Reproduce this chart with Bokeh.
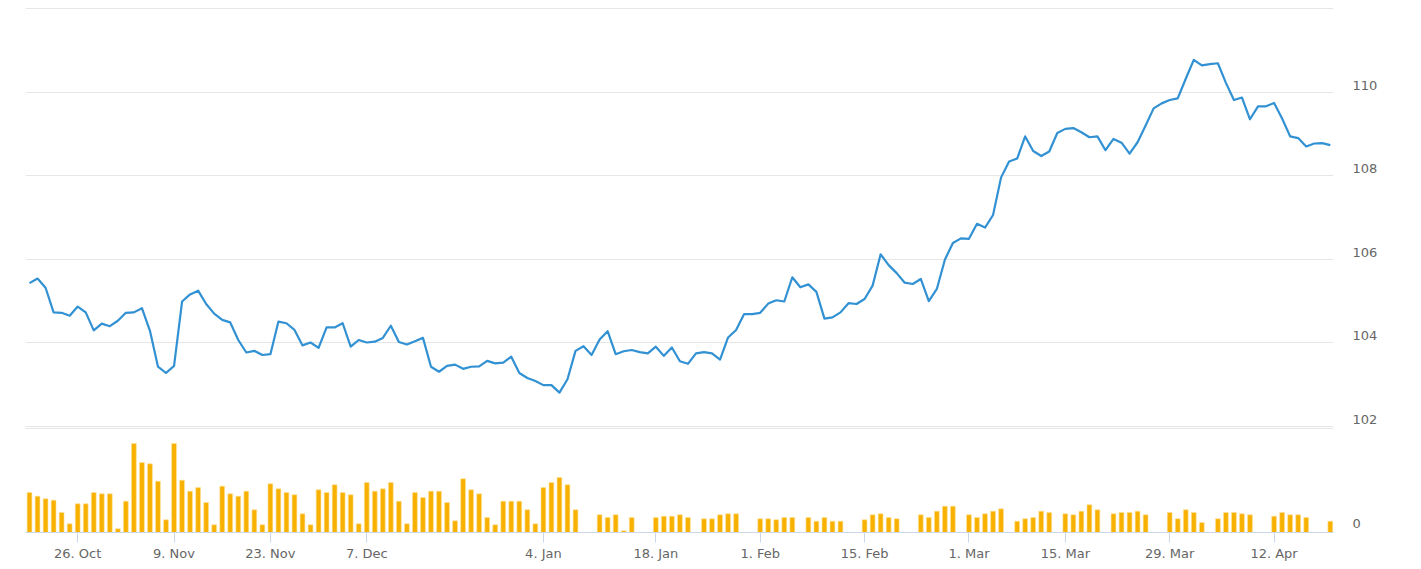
import numpy as np
from bokeh.plotting import figure
from bokeh.layouts import column
from bokeh.models import Range1d, LinearAxis, FixedTicker, ColumnDataSource, Grid
from bokeh.embed import file_html
from bokeh.resources import INLINE

# ---- data (ordinal trading-day index) ----
price = [
    105.43, 105.54, 105.32, 104.73, 104.72, 104.65, 104.87, 104.73, 104.30, 104.46,
    104.40, 104.53, 104.72, 104.73, 104.83, 104.29, 103.43, 103.28, 103.45, 104.99,
    105.16, 105.25, 104.93, 104.70, 104.55, 104.49, 104.07, 103.77, 103.81, 103.71,
    103.73, 104.51, 104.47, 104.31, 103.94, 104.01, 103.88, 104.37, 104.37, 104.47,
    103.91, 104.07, 104.01, 104.03, 104.12, 104.41, 104.02, 103.96, 104.04, 104.12,
    103.43, 103.31, 103.45, 103.48, 103.38, 103.43, 103.44, 103.57, 103.51, 103.53,
    103.67, 103.28, 103.16, 103.09, 102.99, 102.99, 102.81, 103.13, 103.81, 103.92,
    103.71, 104.08, 104.28, 103.73, 103.80, 103.83, 103.78, 103.75, 103.91, 103.69,
    103.89, 103.56, 103.50, 103.75, 103.78, 103.75, 103.60, 104.13, 104.31, 104.69,
    104.69, 104.72, 104.94, 105.02, 104.99, 105.57, 105.33, 105.40, 105.22, 104.58,
    104.61, 104.73, 104.95, 104.93, 105.05, 105.37, 106.12, 105.86, 105.67, 105.44,
    105.41, 105.53, 105.00, 105.29, 105.99, 106.39, 106.50, 106.49, 106.85, 106.76,
    107.06, 107.96, 108.34, 108.41, 108.94, 108.59, 108.47, 108.58, 109.02, 109.12,
    109.14, 109.04, 108.92, 108.94, 108.61, 108.88, 108.79, 108.53, 108.80, 109.20,
    109.61, 109.73, 109.81, 109.85, 110.32, 110.77, 110.64, 110.67, 110.69, 110.22,
    109.81, 109.87, 109.35, 109.66, 109.66, 109.74, 109.37, 108.94, 108.90, 108.70,
    108.77, 108.78, 108.73,
]

nan = float("nan")
volume = [
    40, 36.3, 33.7, 32.3, 20, 8.7, 28.7, 28.7, 40, 38.7,
    38.7, 3.7, 31.3, 89, 70, 68.7, 51.3, 12.7, 89, 52.3,
    41.3, 45, 30, 7.7, 46.3, 38.7, 36.3, 41.3, 22.7, 7.7,
    48.7, 43.7, 40, 37.7, 18.7, 7.7, 42.7, 40, 47.7, 40,
    37.7, 8.7, 50, 41.3, 43.7, 50, 31.3, 8.7, 40, 35,
    41.3, 41.3, 30, 11.7, 53.7, 42.7, 38.7, 15, 7.7, 31.3,
    31.3, 31.3, 22.7, 8.7, 45, 50, 55, 47.7, 22.7, nan,
    nan, 17.7, 15, 17.7, 1.7, 15, nan, nan, 15, 16.3,
    16.3, 17.7, 15, nan, 13.7, 13.7, 17.7, 18.7, 18.7, nan,
    nan, 13.7, 13.7, 12.7, 15, 15, nan, 15, 11.3, 15,
    11.3, 11.3, nan, nan, 12.7, 17.7, 18.7, 15, 13.7, nan,
    nan, 17.7, 15, 21.3, 26.3, 26.3, nan, 17.7, 15, 18.7,
    21.3, 23.7, nan, 11.3, 13.7, 15, 21.3, 20, nan, 18.7,
    17.7, 21.3, 27.7, 22.7, nan, 18.7, 20, 20, 21.3, 17.7,
    nan, nan, 20, 13.7, 22.7, 20, 10, nan, 13.7, 20,
    20, 18.7, 17.7, nan, nan, 16.3, 20, 17.7, 17.7, 15,
    nan, nan, 11.3,
]

tick_labels = ["26. Oct", "9. Nov", "23. Nov", "7. Dec", "4. Jan", "18. Jan",
               "1. Feb", "15. Feb", "1. Mar", "15. Mar", "29. Mar", "12. Apr"]
tick_index = [6, 18, 30, 42, 64, 78, 91, 104, 117, 129, 142, 155]

price_ticks = [102, 104, 106, 108, 110]
price_grid = [102, 104, 106, 108, 110, 112]

idx = list(range(len(price)))
src = ColumnDataSource(dict(x=idx, price=price, vol=np.array(volume, dtype=float)))

FONT = "DejaVu Sans"
LABEL_COLOR = "#666666"
GRID_COLOR = "#e6e6e6"
AXIS_COLOR = "#ccd6eb"
PX = 41.8  # pixels per price unit

x_range = Range1d(-0.5, 162.4)

# ---- price pane ----
p = figure(frame_width=1308, frame_height=420, x_range=x_range,
           y_range=Range1d(102 - 1 / PX, 112 + 1 / PX),
           output_backend="svg", toolbar_location=None,
           min_border_left=25, min_border_right=75, min_border_top=7, min_border_bottom=0,
           x_axis_location=None, y_axis_location=None)
p.grid.visible = False
p.outline_line_color = None
p.background_fill_color = "white"
p.border_fill_color = "white"
p.add_layout(Grid(dimension=1, ticker=FixedTicker(ticks=price_grid),
                  grid_line_color=GRID_COLOR, grid_line_width=1))

p.line("x", "price", source=src, line_color="#3191d3", line_width=2.2, line_join="round")

p.extra_y_ranges = {"lab": Range1d(102 - 1 / PX - 7 / PX, 112 + 1 / PX - 7 / PX)}
pax = LinearAxis(y_range_name="lab", ticker=FixedTicker(ticks=price_ticks),
                 axis_line_color=None, major_tick_line_color=None, minor_tick_line_color=None,
                 major_tick_out=0, major_tick_in=0, minor_tick_out=0, minor_tick_in=0,
                 major_label_standoff=19, major_label_text_color=LABEL_COLOR,
                 major_label_text_font=FONT, major_label_text_font_size="13px")
p.add_layout(pax, "right")

# ---- volume pane ----
v = figure(frame_width=1308, frame_height=105, x_range=x_range, y_range=Range1d(0, 105),
           output_backend="svg", toolbar_location=None,
           min_border_left=25, min_border_right=75, min_border_top=0, min_border_bottom=0,
           x_axis_location=None, y_axis_location=None)
v.grid.visible = False
v.outline_line_color = None
v.background_fill_color = "white"
v.border_fill_color = "white"
v.add_layout(Grid(dimension=1, ticker=FixedTicker(ticks=[104.3]),
                  grid_line_color=GRID_COLOR, grid_line_width=1))

v.vbar(x="x", top="vol", bottom=0, width=0.6, source=src,
       fill_color="#f8b100", line_color="#fde29a", line_width=0.6)

xax = LinearAxis(ticker=FixedTicker(ticks=tick_index),
                 major_label_overrides={i: s for i, s in zip(tick_index, tick_labels)},
                 axis_line_color=AXIS_COLOR, axis_line_width=1,
                 major_tick_line_color=AXIS_COLOR, major_tick_out=10, major_tick_in=0,
                 minor_tick_line_color=None, minor_tick_out=0, minor_tick_in=0,
                 major_label_standoff=3, major_label_text_color=LABEL_COLOR,
                 major_label_text_font=FONT, major_label_text_font_size="13px")
v.add_layout(xax, "below")

v.extra_y_ranges = {"vlab": Range1d(-9, 96)}
vax = LinearAxis(y_range_name="vlab", ticker=FixedTicker(ticks=[0]),
                 axis_line_color=None, major_tick_line_color=None, minor_tick_line_color=None,
                 major_tick_out=0, major_tick_in=0, minor_tick_out=0, minor_tick_in=0,
                 major_label_standoff=19, major_label_text_color=LABEL_COLOR,
                 major_label_text_font=FONT, major_label_text_font_size="13px")
v.add_layout(vax, "right")

layout = column(p, v, spacing=0)
open("out.html", "w").write(file_html(layout, INLINE))
